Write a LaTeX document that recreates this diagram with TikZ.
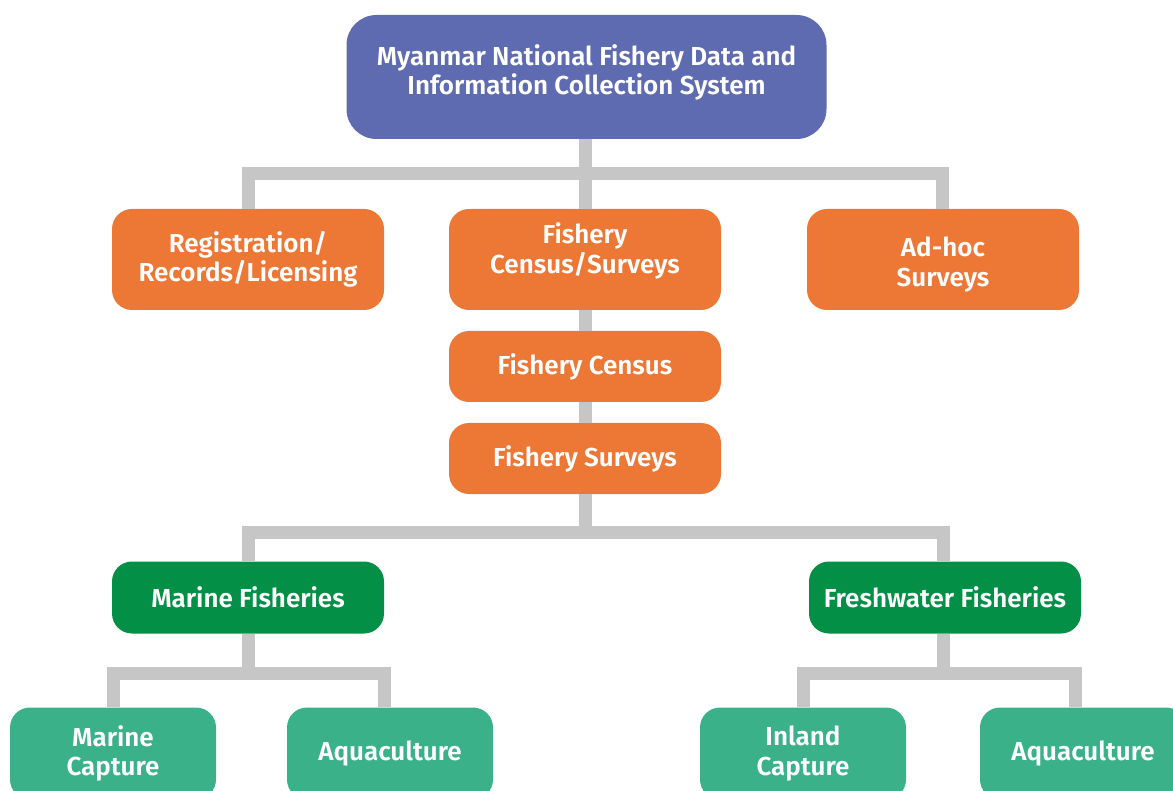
\documentclass[tikz,border=0pt]{standalone}
\usepackage{fontspec}
\setmainfont{Fira Sans}[BoldFont={Fira Sans SemiBold}]
\usetikzlibrary{calc}

\definecolor{systemblue}{RGB}{94,107,177}
\definecolor{fishorange}{RGB}{237,119,52}
\definecolor{fishgreen}{RGB}{3,143,70}
\definecolor{capturegreen}{RGB}{58,177,137}
\definecolor{linkgray}{RGB}{198,198,198}

\tikzset{
	box/.style={inner sep=0pt, align=center, text=white, rounded corners=20pt,
		font=\fontsize{26}{29.5}\selectfont\bfseries},
	systembox/.style={box, fill=systemblue, minimum width=480pt, minimum height=124pt, rounded corners=30pt},
	methodbox/.style={box, fill=fishorange, minimum width=272pt, minimum height=101pt},
	stepbox/.style={box, fill=fishorange, minimum width=272pt, minimum height=71pt},
	sectorbox/.style={box, fill=fishgreen, minimum width=272pt, minimum height=72pt},
	leafbox/.style={box, fill=capturegreen, minimum width=206pt, minimum height=92pt},
	link/.style={line width=13pt, draw=linkgray, line join=miter},
}

\begin{document}
\begin{tikzpicture}[x=1pt, y=-1pt]%[scale=0.8]
			\useasboundingbox (0,0) rectangle (1173,791);

			\node[systembox, text depth=15pt] (sys) at (586.5,77) {Myanmar National Fishery Data and\\Information Collection System};

			\node[methodbox, text depth=23pt] (cen) at ($(sys)+(-1.5,182.5)$) {Fishery\\Census/Surveys};
			\node[methodbox] (reg) at ($(cen)+(-337,0)$) {Registration/\\Records/Licensing};
			\node[methodbox, text height=59pt] (adhoc) at ($(cen)+(358,0)$) {Ad-hoc\\Surveys};

			\node[stepbox] (census) at ($(cen)+(0,107)$) {Fishery Census};
			\node[stepbox] (surveys) at ($(census)+(0,92)$) {Fishery Surveys};

			\node[sectorbox] (marine) at ($(surveys)+(-337,139)$) {Marine Fisheries};
			\node[sectorbox] (fresh) at ($(surveys)+(360,139)$) {Freshwater Fisheries};

			\node[leafbox] (mcap) at ($(marine)+(-135,156)$) {Marine\\Capture};
			\node[leafbox] (maqua) at ($(marine)+(142,156)$) {Aquaculture};
			\node[leafbox] (icap) at ($(fresh)+(-142,156)$) {Inland\\Capture};
			\node[leafbox] (faqua) at ($(fresh)+(138,156)$) {Aquaculture};

			%bars between the levels
			\coordinate (bar1) at ($(cen.north |- sys.south)+(0,34)$);
			\coordinate (bar2) at ($(surveys.south)+(0,38.5)$);
			\coordinate (bar3) at ($(marine.south)+(0,40)$);
			\coordinate (bar4) at ($(fresh.south)+(-2,40)$);

			\draw[link] (cen.north |- sys.south) -- (bar1) -| (reg.north);
			\draw[link] (bar1) -| ($(adhoc.north)+(-1,0)$);
			\draw[link] (cen.north) -- (cen.north |- sys.south);
			\draw[link] (cen.south) -- (census.north);
			\draw[link] (census.south) -- (surveys.north);

			\draw[link] (surveys.south) -- (bar2) -| (marine.north);
			\draw[link] (bar2) -| ($(fresh.north)+(-2,0)$);

			\draw[link] (marine.south) -- (bar3) -| (mcap.north);
			\draw[link] (bar3) -| ($(maqua.north)+(-6,0)$);

			\draw[link] ($(fresh.south)+(-2,0)$) -- (bar4) -| (icap.north);
			\draw[link] (bar4) -| ($(faqua.north)+(-7.5,0)$);

		\end{tikzpicture}
\end{document}
